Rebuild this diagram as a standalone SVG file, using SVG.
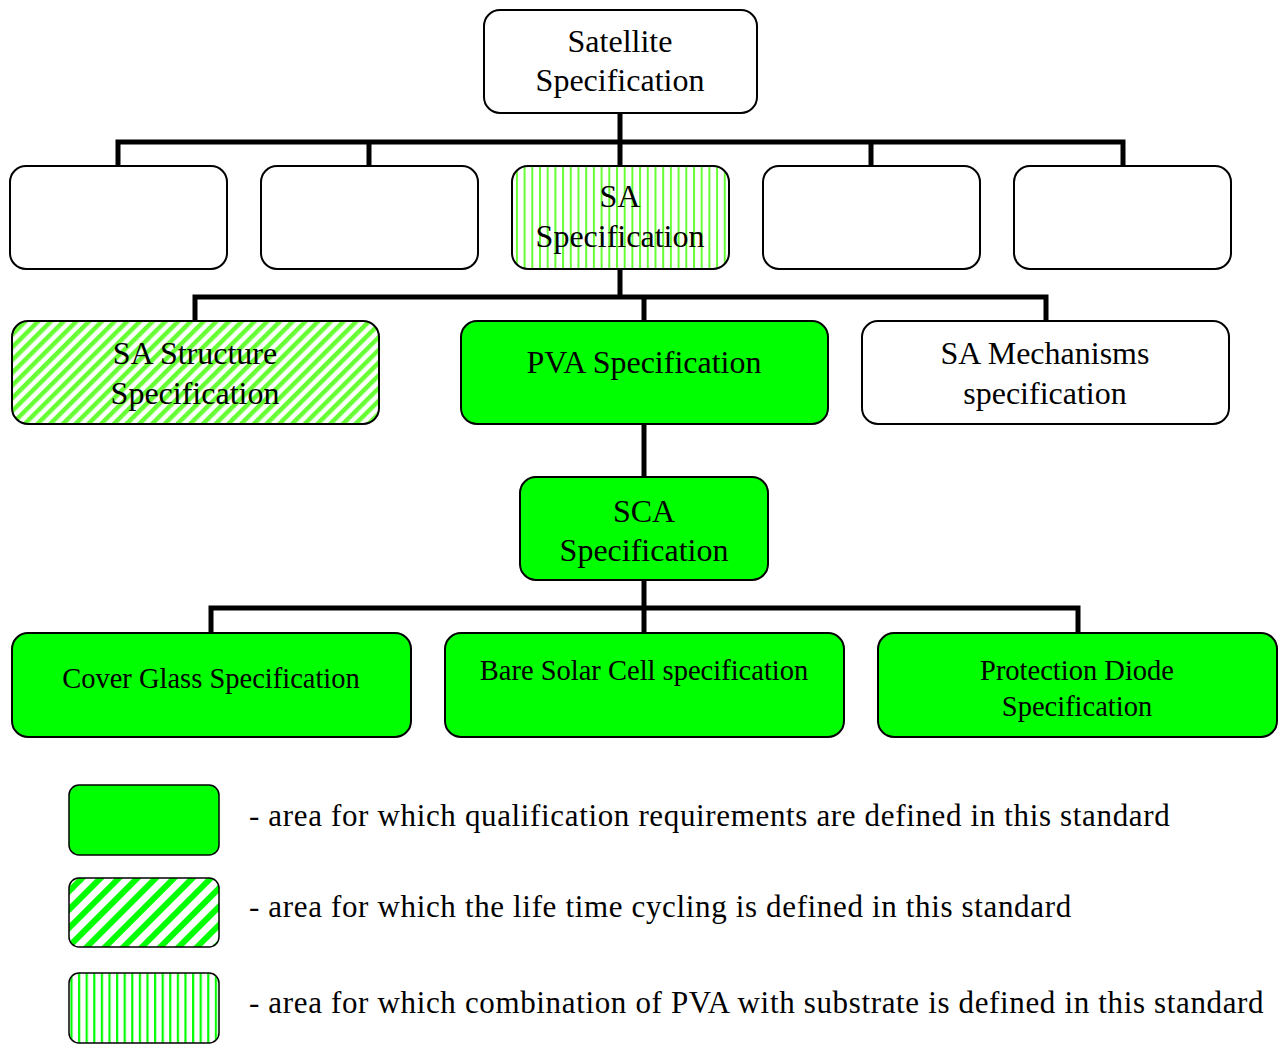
<svg xmlns="http://www.w3.org/2000/svg" width="1282" height="1044" viewBox="0 0 1282 1044">
<defs>
  <pattern id="vstripe" patternUnits="userSpaceOnUse" x="0" y="0" width="7.7" height="10">
    <rect x="0" y="0" width="7.7" height="10" fill="#ffffff"/>
    <rect x="0" y="0" width="2" height="10" fill="#66ff33"/>
  </pattern>
  <pattern id="vstripeL" patternUnits="userSpaceOnUse" x="2" y="0" width="7.6" height="10">
    <rect x="0" y="0" width="7.6" height="10" fill="#ffffff"/>
    <rect x="0" y="0" width="2.2" height="10" fill="#00ff00"/>
  </pattern>
  <pattern id="dstripe" patternUnits="userSpaceOnUse" width="9" height="10" patternTransform="rotate(45)">
    <rect x="0" y="0" width="9" height="10" fill="#ffffff"/>
    <rect x="0" y="0" width="4.5" height="10" fill="#66ff33"/>
  </pattern>
  <pattern id="dstripeL" patternUnits="userSpaceOnUse" width="13" height="10" patternTransform="rotate(45)">
    <rect x="0" y="0" width="13" height="10" fill="#ffffff"/>
    <rect x="0" y="0" width="6" height="10" fill="#00ff00"/>
  </pattern>
</defs>
<style>
  .box { stroke: #000; stroke-width: 2; fill: #ffffff; }
  .green { fill: #00ff00; }
  .vs { fill: url(#vstripe); }
  .ds { fill: url(#dstripe); }
  .conn { fill: none; stroke: #000; stroke-width: 5; stroke-linejoin: miter; }
  text { font-family: "Liberation Serif", "Times New Roman", serif; fill: #000; text-anchor: middle; }
  .t31 { font-size: 32px; }
  .t28 { font-size: 28.5px; }
  .leg { font-size: 31px; letter-spacing: 0.65px; text-anchor: start; }
</style>
<rect x="0" y="0" width="1282" height="1044" fill="#ffffff"/>

<g id="connectors">
  <path class="conn" d="M620,113 V142 M118,166 V142 H1123 V166 M369,142 V166 M620,142 V166 M871,142 V166"/>
  <path class="conn" d="M620,269 V297 M195,321 V297 H1046 V321 M644,297 V321"/>
  <path class="conn" d="M644,424 V477"/>
  <path class="conn" d="M644,580 V633 M211,633 V608 H1078 V633"/>
</g>

<g id="satellite">
  <rect class="box" x="484" y="10" width="273" height="103" rx="16"/>
  <text class="t31" x="620" y="52">Satellite</text>
  <text class="t31" x="620" y="91">Specification</text>
</g>

<g id="empty1"><rect class="box" x="10" y="166" width="217" height="103" rx="16"/></g>
<g id="empty2"><rect class="box" x="261" y="166" width="217" height="103" rx="16"/></g>
<g id="sa-spec">
  <rect class="box vs" x="512" y="166" width="217" height="103" rx="16"/>
  <text class="t31" x="620" y="207">SA</text>
  <text class="t31" x="620" y="247">Specification</text>
</g>
<g id="empty3"><rect class="box" x="763" y="166" width="217" height="103" rx="16"/></g>
<g id="empty4"><rect class="box" x="1014" y="166" width="217" height="103" rx="16"/></g>

<g id="sa-structure">
  <rect class="box ds" x="12" y="321" width="367" height="103" rx="16"/>
  <text class="t31" x="195" y="364">SA Structure</text>
  <text class="t31" x="195" y="404">Specification</text>
</g>
<g id="pva">
  <rect class="box green" x="461" y="321" width="367" height="103" rx="16"/>
  <text class="t31" x="644" y="373">PVA Specification</text>
</g>
<g id="sa-mechanisms">
  <rect class="box" x="862" y="321" width="367" height="103" rx="16"/>
  <text class="t31" x="1045" y="364">SA Mechanisms</text>
  <text class="t31" x="1045" y="404">specification</text>
</g>

<g id="sca">
  <rect class="box green" x="520" y="477" width="248" height="103" rx="16"/>
  <text class="t31" x="644" y="522">SCA</text>
  <text class="t31" x="644" y="561">Specification</text>
</g>

<g id="cover-glass">
  <rect class="box green" x="12" y="633" width="399" height="104" rx="16"/>
  <text class="t28" x="211" y="688">Cover Glass Specification</text>
</g>
<g id="bare-cell">
  <rect class="box green" x="445" y="633" width="399" height="104" rx="16"/>
  <text class="t28" x="644" y="680">Bare Solar Cell specification</text>
</g>
<g id="diode">
  <rect class="box green" x="878" y="633" width="399" height="104" rx="16"/>
  <text class="t28" x="1077" y="680">Protection Diode</text>
  <text class="t28" x="1077" y="716">Specification</text>
</g>

<g id="legend-qualification">
  <rect x="69" y="785" width="150" height="70" rx="10" fill="#00ff00" stroke="#000" stroke-width="1.5"/>
  <text class="leg" x="249" y="826">- area for which qualification requirements are defined in this standard</text>
</g>
<g id="legend-cycling">
  <rect x="69" y="878" width="150" height="69" rx="10" fill="url(#dstripeL)" stroke="#000" stroke-width="1.5"/>
  <text class="leg" x="249" y="917">- area for which the life time cycling is defined in this standard</text>
</g>
<g id="legend-substrate">
  <rect x="69" y="973" width="150" height="70" rx="10" fill="url(#vstripeL)" stroke="#000" stroke-width="1.5"/>
  <text class="leg" x="249" y="1013">- area for which combination of PVA with substrate is defined in this standard</text>
</g>
</svg>
